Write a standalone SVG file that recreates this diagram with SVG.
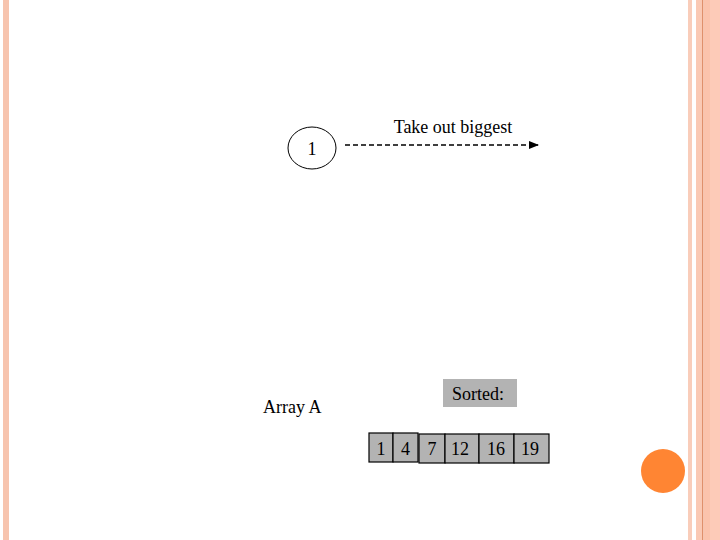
<svg xmlns="http://www.w3.org/2000/svg" width="720" height="540" viewBox="0 0 720 540">
<style>
text{font-family:"Liberation Serif","Times New Roman",serif;font-size:18px;fill:#000}
.cell{fill:#B3B3B3;stroke:#000;stroke-width:1.2}
</style>
<defs>
<marker id="ah" markerWidth="10" markerHeight="8" refX="9" refY="4" orient="auto" markerUnits="userSpaceOnUse">
<path d="M0,0 L10,4 L0,8 Z" fill="#000"/>
</marker>
</defs>
<rect width="720" height="540" fill="#fff"/>
<g id="decor">
<rect x="3" y="0" width="6" height="540" fill="#F7C4AE"/>
<rect x="688" y="0" width="4" height="540" fill="#F9CDBA"/>
<rect x="696" y="0" width="6" height="540" fill="#FAC9B4"/>
<rect x="702" y="0" width="1.5" height="540" fill="#E0906B"/>
<rect x="703.5" y="0" width="6.5" height="540" fill="#FBC3AC"/>
<rect x="710" y="0" width="10" height="540" fill="#FDCBB8"/>
<circle cx="663" cy="471" r="22" fill="#FF8533"/>
</g>
<g id="node1">
<ellipse cx="312" cy="148" rx="24" ry="21" fill="#fff" stroke="#000" stroke-width="1"/>
<text x="312" y="155" text-anchor="middle">1</text>
</g>
<g id="connectors">
<line x1="345" y1="145" x2="538" y2="145" stroke="#000" stroke-width="1.6" stroke-dasharray="5,3" marker-end="url(#ah)"/>
</g>
<g id="label-take">
<text x="453" y="133" text-anchor="middle">Take out biggest</text>
</g>
<g id="sorted">
<rect x="443" y="379" width="74" height="28" fill="#B3B3B3"/>
<text x="478" y="400" text-anchor="middle">Sorted:</text>
</g>
<g id="arrayA">
<text x="263" y="413">Array A</text>
</g>
<g id="cells">
<rect class="cell" x="369" y="433" width="24" height="29"/>
<text x="381" y="455" text-anchor="middle">1</text>
<rect class="cell" x="393" y="433" width="25" height="29"/>
<text x="405.5" y="455" text-anchor="middle">4</text>
<rect class="cell" x="419" y="434" width="26" height="29"/>
<text x="432" y="455" text-anchor="middle">7</text>
<rect class="cell" x="445" y="434" width="34" height="29"/>
<text x="460" y="455" text-anchor="middle">12</text>
<rect class="cell" x="479" y="434" width="35" height="29"/>
<text x="496" y="455" text-anchor="middle">16</text>
<rect class="cell" x="514" y="434" width="35" height="29"/>
<text x="530" y="455" text-anchor="middle">19</text>
</g>
</svg>
